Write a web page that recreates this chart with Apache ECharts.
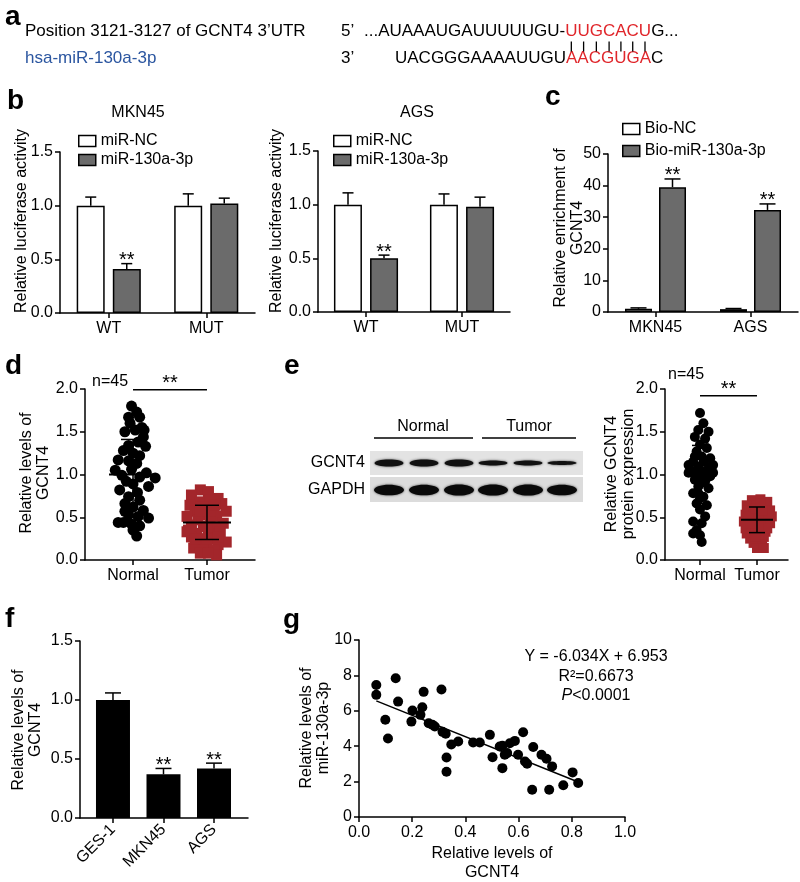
<!DOCTYPE html>
<html><head><meta charset="utf-8">
<script src="https://cdn.jsdelivr.net/npm/echarts@6/dist/echarts.min.js"></script>
<style>html,body{margin:0;padding:0;background:#fff}#c{width:800px;height:882px}</style>
</head><body><div id="c"></div>
<script>
// ---------------- DATA ----------------
// panel b
const bCategories = ['WT', 'MUT'];
const bSeriesNames = ['miR-NC', 'miR-130a-3p'];
const bMKN45_NC = [1.00, 1.00];
const bMKN45_NC_err = [0.08, 0.11];
const bMKN45_miR = [0.41, 1.02];
const bMKN45_miR_err = [0.05, 0.05];
const bMKN45_sig = ['**', ''];
const bAGS_NC = [1.00, 1.00];
const bAGS_NC_err = [0.11, 0.10];
const bAGS_miR = [0.50, 0.98];
const bAGS_miR_err = [0.03, 0.09];
const bAGS_sig = ['**', ''];
// panel c
const cCategories = ['MKN45', 'AGS'];
const cSeriesNames = ['Bio-NC', 'Bio-miR-130a-3p'];
const cBioNC = [1.0, 0.9];
const cBioNC_err = [0.3, 0.2];
const cBioMiR = [39.5, 32.3];
const cBioMiR_err = [2.6, 1.9];
const cSig = ['**', '**'];
// panel d  (each point: [horizontal spread within group, value])
const dGroups = ['Normal', 'Tumor'];
const dNormal = [[-0.02,1.80],[0.05,1.73],[-0.06,1.67],[0.09,1.67],[-0.04,1.60],[0.12,1.55],[-0.11,1.50],[0.03,1.52],[0.15,1.52],[0.07,1.38],[-0.06,1.34],[0.17,1.33],[-0.13,1.28],[0.00,1.25],[0.09,1.22],[-0.06,1.16],[0.05,1.13],[-0.24,1.05],[-0.02,1.06],[0.18,1.02],[-0.15,0.99],[0.09,0.97],[0.30,0.96],[-0.09,0.92],[0.00,0.89],[-0.18,0.82],[0.06,0.79],[-0.06,0.74],[0.09,0.70],[-0.11,0.66],[0.00,0.62],[0.14,0.58],[-0.06,0.53],[0.07,0.51],[0.21,0.49],[-0.20,0.44],[-0.02,0.42],[-0.13,0.44],[0.09,0.40],[0.00,0.35],[0.05,0.28],[0.14,1.44],[-0.20,1.17],[0.21,0.86],[-0.11,0.57]];
const dTumor = [[-0.09,0.82],[0.02,0.80],[-0.21,0.76],[0.15,0.72],[-0.09,0.68],[0.04,0.70],[-0.23,0.64],[-0.05,0.62],[0.20,0.66],[0.09,0.58],[-0.16,0.57],[0.26,0.57],[-0.03,0.53],[-0.27,0.51],[0.13,0.51],[-0.12,0.47],[0.04,0.45],[-0.21,0.41],[0.22,0.43],[-0.05,0.39],[0.11,0.37],[-0.27,0.33],[-0.14,0.31],[0.02,0.31],[0.18,0.33],[-0.21,0.27],[-0.07,0.25],[0.09,0.25],[0.26,0.21],[-0.14,0.19],[0.00,0.19],[0.15,0.18],[-0.18,0.14],[-0.05,0.12],[0.09,0.12],[-0.09,0.08],[0.13,0.06],[-0.25,0.35],[0.04,0.57],[-0.09,0.57],[0.15,0.27],[0.00,0.39],[-0.16,0.25],[0.11,0.64],[0.02,0.08]];
const dMeanSD = [[1.00, 0.41], [0.44, 0.20]];
// panel e
const eBlotLanes = ['Normal', 'Normal', 'Normal', 'Tumor', 'Tumor', 'Tumor'];
const eBlotGCNT4 = [1.0, 1.0, 1.0, 0.7, 0.7, 0.55];
const eBlotGAPDH = [1.0, 1.0, 1.05, 1.05, 1.05, 1.0];
const eGroups = ['Normal', 'Tumor'];
const eNormal = [[0.00,1.72],[0.06,1.60],[-0.03,1.52],[0.15,1.50],[-0.09,1.44],[0.09,1.42],[0.00,1.35],[0.12,1.31],[-0.06,1.27],[0.03,1.21],[0.18,1.19],[-0.12,1.15],[0.06,1.15],[-0.20,1.11],[0.23,1.11],[-0.03,1.09],[0.12,1.05],[-0.15,1.04],[0.00,1.01],[0.18,0.98],[-0.09,0.94],[0.09,0.92],[-0.03,0.86],[0.15,0.84],[-0.12,0.78],[0.06,0.74],[-0.06,0.66],[0.12,0.64],[0.00,0.59],[-0.12,0.45],[0.03,0.43],[-0.06,0.35],[0.00,0.29],[0.03,0.21],[-0.12,0.31],[0.06,1.02],[-0.06,0.98],[0.23,1.02],[-0.20,1.02],[0.03,0.90],[0.18,1.09],[-0.09,1.21],[0.00,0.72],[0.09,0.51],[-0.03,0.78]];
const eTumor = [[-0.09,0.70],[0.06,0.71],[0.18,0.68],[-0.18,0.64],[0.00,0.64],[0.15,0.62],[0.23,0.58],[-0.15,0.58],[0.03,0.57],[-0.20,0.53],[-0.06,0.53],[0.12,0.53],[0.26,0.51],[-0.12,0.47],[0.03,0.47],[0.18,0.47],[-0.23,0.45],[-0.03,0.41],[0.12,0.41],[0.23,0.43],[-0.15,0.39],[0.06,0.35],[-0.09,0.33],[0.15,0.33],[-0.18,0.31],[0.00,0.29],[0.12,0.27],[-0.12,0.25],[0.03,0.23],[-0.06,0.20],[0.09,0.18],[0.00,0.14],[0.12,0.14],[-0.15,0.51],[0.06,0.51],[0.21,0.55],[-0.03,0.60],[0.09,0.58],[-0.06,0.37],[0.18,0.37],[0.03,0.39],[-0.20,0.37],[-0.03,0.27],[0.06,0.66],[-0.12,0.43]];
const eMeanSD = [[1.00, 0.34], [0.47, 0.15]];
// panel f
const fCategories = ['GES-1', 'MKN45', 'AGS'];
const fValues = [1.00, 0.37, 0.42];
const fErr = [0.06, 0.05, 0.045];
const fSig = ['', '**', '**'];
// panel g
const gPoints = [[0.065,7.46],[0.065,6.90],[0.138,7.84],[0.099,5.49],[0.109,4.44],[0.147,6.52],[0.243,7.07],[0.310,7.20],[0.201,6.02],[0.197,5.39],[0.231,5.77],[0.238,6.20],[0.276,5.21],[0.285,5.11],[0.314,4.81],[0.326,4.70],[0.329,3.36],[0.329,2.56],[0.347,4.10],[0.373,4.27],[0.429,4.21],[0.454,4.21],[0.492,4.64],[0.502,3.38],[0.529,3.98],[0.539,4.02],[0.539,2.76],[0.548,3.52],[0.567,4.17],[0.586,4.30],[0.598,3.52],[0.617,4.79],[0.624,3.14],[0.632,3.01],[0.651,1.54],[0.655,3.95],[0.686,3.52],[0.705,3.29],[0.715,1.54],[0.726,2.86],[0.768,1.79],[0.803,2.52],[0.824,1.92],[0.557,3.61],[0.262,5.30]];
const gFitSlope = -6.034;
const gFitIntercept = 6.953;
const gFitRange = [0.065, 0.824];
const gEquation = 'Y = -6.034X + 6.953';
const gR2 = 'R\u00b2=0.6673';
const gP = '<0.0001';

// ---------------- STYLE / HELPERS ----------------
const FF = '"Liberation Sans", Arial, Helvetica, sans-serif';
const BLACK = '#000';
const GRAY = '#6b6b6b';
const RED = '#a3262b';
const fs = 16;

function axisBase(extra) {
  return Object.assign({
    axisLine: {show: true, onZero: false, lineStyle: {color: BLACK, width: 1.5}},
    axisTick: {show: true, length: 5, inside: false, lineStyle: {color: BLACK, width: 1.5}},
    axisLabel: {color: BLACK, fontSize: fs, fontFamily: FF, margin: 8},
    splitLine: {show: false}
  }, extra);
}
function yVal(gi, min, max, interval, dec) {
  return axisBase({type: 'value', gridIndex: gi, min, max, interval,
    axisLabel: {color: BLACK, fontSize: fs, fontFamily: FF, margin: 7, formatter: v => v.toFixed(dec)}});
}
function xCat(gi, cats) {
  return axisBase({type: 'category', gridIndex: gi, data: cats,
    axisTick: {show: true, length: 5, alignWithLabel: true, lineStyle: {color: BLACK, width: 1.5}}});
}
function xGroup(gi, min, max, names, rotate) {
  const vals = names.map((n, i) => i);
  return axisBase({type: 'value', gridIndex: gi, min, max,
    axisTick: {show: true, length: 5, customValues: vals, lineStyle: {color: BLACK, width: 1.5}},
    axisLabel: {color: BLACK, fontSize: fs, fontFamily: FF, margin: rotate ? 9 : 8, rotate: rotate || 0,
      customValues: vals, formatter: v => names[Math.round(v)] || ''}});
}
function errSeries(xi, vals, errs, sigs, offset, capW) {
  return {
    type: 'custom', xAxisIndex: xi, yAxisIndex: xi, z: 6, silent: true,
    data: vals.map((v, i) => [i, v, errs[i]]),
    renderItem(params, api) {
      const x = api.value(0), v = api.value(1), e = api.value(2);
      const p0 = api.coord([x, v]), p1 = api.coord([x, v + e]);
      const cx = p0[0] + offset;
      const st = {stroke: BLACK, lineWidth: 1.5};
      const ch = [
        {type: 'line', shape: {x1: cx, y1: p0[1], x2: cx, y2: p1[1]}, style: st},
        {type: 'line', shape: {x1: cx - capW / 2, y1: p1[1], x2: cx + capW / 2, y2: p1[1]}, style: st}
      ];
      const s = sigs ? sigs[params.dataIndex] : '';
      if (s) ch.push({type: 'text', style: {text: s, x: cx, y: p1[1] + 7, align: 'center', verticalAlign: 'bottom', fontSize: 20, fontFamily: FF, fill: BLACK}});
      return {type: 'group', children: ch};
    }
  };
}
function barSeries(xi, name, data, color, width, gap) {
  return {type: 'bar', name, xAxisIndex: xi, yAxisIndex: xi, data, barWidth: width, barGap: gap,
    itemStyle: {color, borderColor: BLACK, borderWidth: 1.5}, z: 3};
}
function meanSdSeries(xi, groups, halfMean, halfSd) {
  return {
    type: 'custom', xAxisIndex: xi, yAxisIndex: xi, z: 8, silent: true,
    data: groups.map((g, i) => [i, g[0], g[1]]),
    renderItem(params, api) {
      const x = api.value(0), m = api.value(1), s = api.value(2);
      const pm = api.coord([x, m]), pt = api.coord([x, m + s]), pb = api.coord([x, m - s]);
      const st = {stroke: BLACK, lineWidth: 1.5};
      return {type: 'group', children: [
        {type: 'line', shape: {x1: pm[0] - halfMean, y1: pm[1], x2: pm[0] + halfMean, y2: pm[1]}, style: {stroke: BLACK, lineWidth: 2}},
        {type: 'line', shape: {x1: pt[0], y1: pt[1], x2: pb[0], y2: pb[1]}, style: st},
        {type: 'line', shape: {x1: pt[0] - halfSd, y1: pt[1], x2: pt[0] + halfSd, y2: pt[1]}, style: st},
        {type: 'line', shape: {x1: pb[0] - halfSd, y1: pb[1], x2: pb[0] + halfSd, y2: pb[1]}, style: st}
      ]};
    }
  };
}
function bracketSeries(xi, yv, text) {
  return {
    type: 'custom', xAxisIndex: xi, yAxisIndex: xi, z: 8, silent: true, clip: false,
    data: [[0, 1, yv]],
    renderItem(params, api) {
      const a = api.coord([api.value(0), api.value(2)]), b = api.coord([api.value(1), api.value(2)]);
      return {type: 'group', children: [
        {type: 'line', shape: {x1: a[0], y1: a[1], x2: b[0], y2: b[1]}, style: {stroke: BLACK, lineWidth: 1.5}},
        {type: 'text', style: {text, x: (a[0] + b[0]) / 2, y: a[1] + 4, align: 'center', verticalAlign: 'bottom', fontSize: 20, fontFamily: FF, fill: BLACK}}
      ]};
    }
  };
}
function txt(x, y, text, opt) {
  opt = opt || {};
  return {type: 'text', x, y, rotation: opt.rot || 0, z: 20, silent: true,
    style: Object.assign({text, align: opt.align || 'center', verticalAlign: opt.va || 'middle',
      fontSize: opt.size || fs, fontFamily: FF, fontWeight: opt.weight || 'normal', fill: opt.color || BLACK,
      lineHeight: opt.lh || 17}, opt.style || {})};
}
function legendFor(left, top, names, colors, gap) {
  return {left, top, orient: 'vertical', padding: 0, itemGap: gap, itemWidth: 17, itemHeight: 11,
    selectedMode: false, icon: 'rect',
    textStyle: {fontSize: fs, color: BLACK, fontFamily: FF},
    data: names.map((n, i) => ({name: n, itemStyle: {color: colors[i], borderColor: BLACK, borderWidth: 1.5}}))};
}

// ---------------- PANEL A TEXT ----------------
const cv = document.createElement('canvas').getContext('2d');
const fontA = '17px "Liberation Sans", Arial, sans-serif';
cv.font = fontA;
const seq1a = '...AUAAAUGAUUUUUGU-', seq1r = 'UUGCACU', seq1b = 'G...';
const seq2a = 'UACGGGAAAAUUGU', seq2r = 'AACGUGA', seq2b = 'C';
const seq1X = 364, seq2X = 395, rowA1 = 31, rowA2 = 58;
const pairBars = [];
for (let i = 0; i < seq1r.length; i++) {
  const cx = seq1X + cv.measureText(seq1a + seq1r.slice(0, i)).width + cv.measureText(seq1r[i]).width / 2;
  pairBars.push({type: 'line', silent: true, shape: {x1: cx, y1: 41.5, x2: cx, y2: 51.5}, style: {stroke: BLACK, lineWidth: 1.3}});
}
const richA = {
  k: {fill: BLACK, color: BLACK, fontSize: 17, fontFamily: FF},
  r: {fill: '#e0262b', color: '#e0262b', fontSize: 17, fontFamily: FF}
};

// ---------------- BLOT ----------------
const blotX = [389, 424, 459, 493, 528, 562];
const blot = [
  {type: 'rect', silent: true, shape: {x: 370, y: 451, width: 213, height: 24}, style: {fill: '#e3e3e3'}},
  {type: 'rect', silent: true, shape: {x: 370, y: 477, width: 213, height: 25}, style: {fill: '#dcdcdc'}}
];
blotX.forEach((x, i) => {
  blot.push({type: 'ellipse', silent: true, shape: {cx: x, cy: 463, rx: 14.5, ry: 3.6 * eBlotGCNT4[i]},
    style: {fill: '#111', shadowBlur: 2.5, shadowColor: 'rgba(0,0,0,0.7)'}});
  blot.push({type: 'ellipse', silent: true, shape: {cx: x, cy: 490, rx: 15, ry: 5.3 * eBlotGAPDH[i]},
    style: {fill: '#0a0a0a', shadowBlur: 2.5, shadowColor: 'rgba(0,0,0,0.7)'}});
});
blot.push({type: 'line', silent: true, shape: {x1: 374, y1: 438, x2: 473, y2: 438}, style: {stroke: BLACK, lineWidth: 1.5}});
blot.push({type: 'line', silent: true, shape: {x1: 482, y1: 438, x2: 576, y2: 438}, style: {stroke: BLACK, lineWidth: 1.5}});

// ---------------- OPTION ----------------
const option = {
  animation: false,
  backgroundColor: '#fff',
  grid: [
    {left: 60, top: 152, width: 195, height: 161},
    {left: 318, top: 151, width: 192, height: 161},
    {left: 608, top: 154, width: 190, height: 158},
    {left: 85, top: 389, width: 170, height: 171},
    {left: 665, top: 389, width: 123, height: 171},
    {left: 80, top: 641, width: 168, height: 177},
    {left: 359, top: 640, width: 266, height: 177}
  ].map(g => Object.assign({containLabel: false, outerBoundsMode: 'none'}, g)),
  xAxis: [
    xCat(0, bCategories),
    xCat(1, bCategories),
    xCat(2, cCategories),
    xGroup(3, -0.649, 1.649, dGroups),
    xGroup(4, -0.614, 1.544, eGroups),
    xGroup(5, -0.653, 2.673, fCategories, 45),
    axisBase({type: 'value', gridIndex: 6, min: 0, max: 1, interval: 0.2,
      axisLabel: {color: BLACK, fontSize: fs, fontFamily: FF, margin: 8, formatter: v => v.toFixed(1)}})
  ],
  yAxis: [
    yVal(0, 0, 1.5, 0.5, 1),
    yVal(1, 0, 1.5, 0.5, 1),
    yVal(2, 0, 50, 10, 0),
    yVal(3, 0, 2, 0.5, 1),
    yVal(4, 0, 2, 0.5, 1),
    yVal(5, 0, 1.5, 0.5, 1),
    yVal(6, 0, 10, 2, 0)
  ],
  legend: [
    legendFor(78, 133, bSeriesNames, ['#fff', GRAY], 3),
    legendFor(333, 133, bSeriesNames, ['#fff', GRAY], 3),
    legendFor(622, 121, cSeriesNames, ['#fff', GRAY], 6)
  ],
  series: [
    barSeries(0, bSeriesNames[0], bMKN45_NC, '#fff', 28, '29%'),
    barSeries(0, bSeriesNames[1], bMKN45_miR, GRAY, 28, '29%'),
    errSeries(0, bMKN45_NC, bMKN45_NC_err, null, -18, 11),
    errSeries(0, bMKN45_miR, bMKN45_miR_err, bMKN45_sig, 18, 11),
    barSeries(1, bSeriesNames[0], bAGS_NC, '#fff', 28, '29%'),
    barSeries(1, bSeriesNames[1], bAGS_miR, GRAY, 28, '29%'),
    errSeries(1, bAGS_NC, bAGS_NC_err, null, -18, 11),
    errSeries(1, bAGS_miR, bAGS_miR_err, bAGS_sig, 18, 11),
    barSeries(2, cSeriesNames[0], cBioNC, '#fff', 27, '26%'),
    barSeries(2, cSeriesNames[1], cBioMiR, GRAY, 27, '26%'),
    errSeries(2, cBioNC, cBioNC_err, null, -17, 16),
    errSeries(2, cBioMiR, cBioMiR_err, cSig, 17, 16),
    {type: 'scatter', xAxisIndex: 3, yAxisIndex: 3, symbol: 'circle', symbolSize: 11, silent: true,
      itemStyle: {color: BLACK, opacity: 1}, data: dNormal.map(p => [0 + p[0], p[1]]), z: 4},
    {type: 'scatter', xAxisIndex: 3, yAxisIndex: 3, symbol: 'rect', symbolSize: 11, silent: true,
      itemStyle: {color: RED, opacity: 1}, data: dTumor.map(p => [1 + p[0], p[1]]), z: 4},
    meanSdSeries(3, dMeanSD, 24, 12),
    bracketSeries(3, 1.99, '**'),
    {type: 'scatter', xAxisIndex: 4, yAxisIndex: 4, symbol: 'circle', symbolSize: 10, silent: true,
      itemStyle: {color: BLACK, opacity: 1}, data: eNormal.map(p => [0 + p[0], p[1]]), z: 4},
    {type: 'scatter', xAxisIndex: 4, yAxisIndex: 4, symbol: 'rect', symbolSize: 10, silent: true,
      itemStyle: {color: RED, opacity: 1}, data: eTumor.map(p => [1 + p[0], p[1]]), z: 4},
    meanSdSeries(4, eMeanSD, 16, 8),
    bracketSeries(4, 1.92, '**'),
    {type: 'bar', xAxisIndex: 5, yAxisIndex: 5, barWidth: 34, silent: true,
      itemStyle: {color: BLACK}, data: fValues.map((v, i) => [i, v]), z: 3},
    errSeries(5, fValues, fErr, fSig, 0, 16),
    {type: 'scatter', xAxisIndex: 6, yAxisIndex: 6, symbol: 'circle', symbolSize: 10, silent: true,
      itemStyle: {color: BLACK, opacity: 1}, data: gPoints, z: 4},
    {type: 'line', xAxisIndex: 6, yAxisIndex: 6, symbol: 'none', silent: true,
      lineStyle: {color: BLACK, width: 1.5},
      data: gFitRange.map(x => [x, gFitSlope * x + gFitIntercept]), z: 5}
  ],
  graphic: [].concat(
    // panel letters
    [['a', 5, 17], ['b', 7, 101], ['c', 545, 97], ['d', 5, 366], ['e', 284, 366], ['f', 5, 619], ['g', 283, 620]]
      .map(l => txt(l[1], l[2], l[0], {align: 'left', size: 28, weight: 'bold', lh: 28})),
    // panel a
    [
      txt(25, rowA1, 'Position 3121-3127 of GCNT4 3\u2019UTR', {align: 'left', size: 17}),
      txt(25, rowA2, 'hsa-miR-130a-3p', {align: 'left', size: 17, color: '#2b56a0'}),
      txt(341, rowA1, '5\u2019', {align: 'left', size: 17}),
      txt(341, rowA2, '3\u2019', {align: 'left', size: 17}),
      {type: 'text', x: seq1X, y: rowA1, silent: true, style: {text: '{k|' + seq1a + '}{r|' + seq1r + '}{k|' + seq1b + '}', rich: richA, verticalAlign: 'middle', align: 'left'}},
      {type: 'text', x: seq2X, y: rowA2, silent: true, style: {text: '{k|' + seq2a + '}{r|' + seq2r + '}{k|' + seq2b + '}', rich: richA, verticalAlign: 'middle', align: 'left'}}
    ],
    pairBars,
    // titles, axis names, annotations
    [
      txt(138, 113, 'MKN45'),
      txt(417, 113, 'AGS'),
      txt(22, 221, 'Relative luciferase activity', {rot: Math.PI / 2}),
      txt(277, 221, 'Relative luciferase activity', {rot: Math.PI / 2}),
      txt(569, 228, 'Relative enrichment of\nGCNT4', {rot: Math.PI / 2}),
      txt(35, 473, 'Relative levels of\nGCNT4', {rot: Math.PI / 2}),
      txt(92, 382, 'n=45', {align: 'left'}),
      txt(620, 474, 'Relative GCNT4\nprotein expression', {rot: Math.PI / 2}),
      txt(668, 375, 'n=45', {align: 'left'}),
      txt(423, 427, 'Normal'),
      txt(529, 427, 'Tumor'),
      txt(365, 463, 'GCNT4', {align: 'right'}),
      txt(365, 490, 'GAPDH', {align: 'right'}),
      txt(27, 730, 'Relative levels of\nGCNT4', {rot: Math.PI / 2}),
      txt(315, 728, 'Relative levels of\nmiR-130a-3p', {rot: Math.PI / 2}),
      txt(492, 863, 'Relative levels of\nGCNT4', {lh: 19}),
      txt(596, 657, gEquation),
      txt(596, 677, gR2),
      {type: 'text', x: 596, y: 696, silent: true, z: 20, style: {text: '{i|P}{n|' + gP + '}', align: 'center', verticalAlign: 'middle',
        rich: {i: {fontStyle: 'italic', fontSize: fs, fontFamily: FF, fill: BLACK}, n: {fontSize: fs, fontFamily: FF, fill: BLACK}}}}
    ],
    blot
  )
};
const chart = echarts.init(document.getElementById('c'));
chart.setOption(option);
</script>
</body></html>
